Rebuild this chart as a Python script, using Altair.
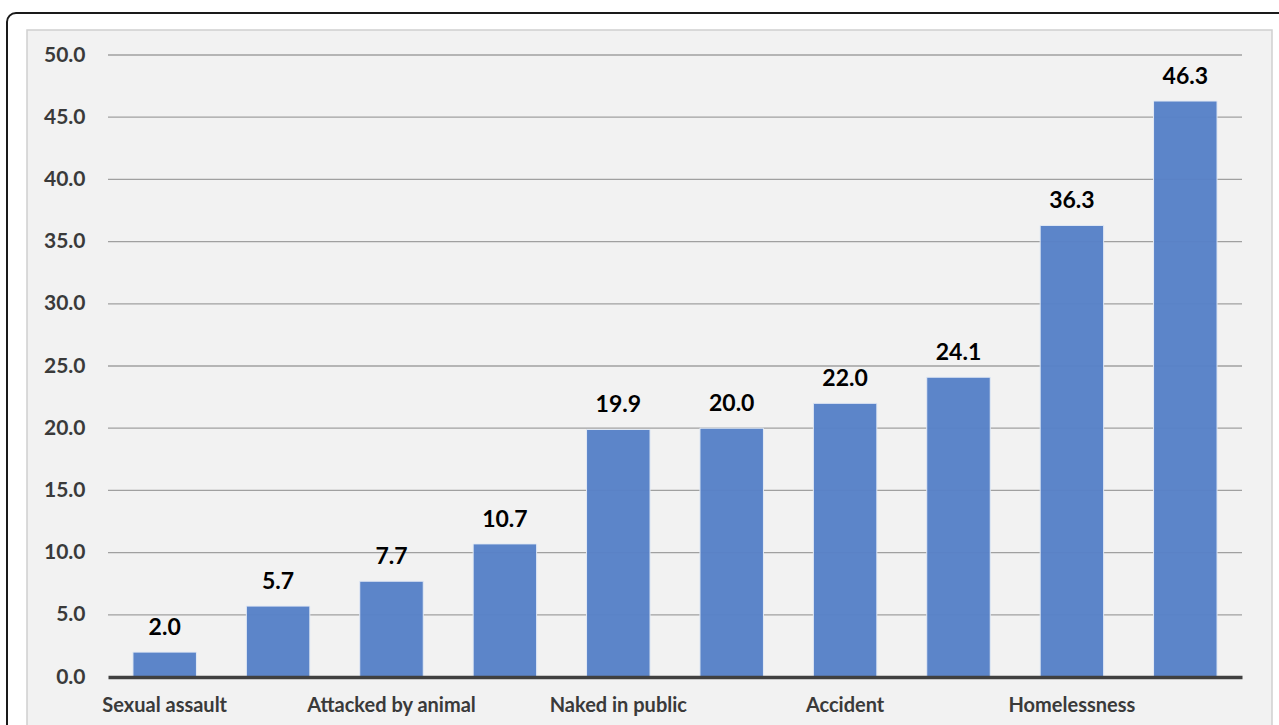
import altair as alt
import pandas as pd

categories = ["Sexual assault", "Category 2", "Attacked by animal", "Category 4",
              "Naked in public", "Category 6", "Accident", "Category 8",
              "Homelessness", "Category 10"]
values = [2.0, 5.7, 7.7, 10.7, 19.9, 20.0, 22.0, 24.1, 36.3, 46.3]
shown_labels = ["Sexual assault", "Attacked by animal", "Naked in public", "Accident", "Homelessness"]
y_ticks = [0, 5, 10, 15, 20, 25, 30, 35, 40, 45, 50]

df = pd.DataFrame({"category": categories, "value": values})
grid_df = pd.DataFrame({"value": y_ticks[1:]})
one = alt.Data(values=[{}])

FONT = "Lato"
label_list = "[" + ",".join("'" + s + "'" for s in shown_labels) + "]"

outer = alt.Chart(one).mark_rect(fill="white", stroke="#1a1a1a", strokeWidth=2, cornerRadius=9).encode(
    x=alt.value(-101), x2=alt.value(1185), y=alt.value(-42), y2=alt.value(690))
panel = alt.Chart(one).mark_rect(fill="#f2f2f2", stroke="#d0d0d0", strokeWidth=1.5).encode(
    x=alt.value(-81), x2=alt.value(1164), y=alt.value(-25), y2=alt.value(690))

y_scale = alt.Scale(domain=[0, 50], nice=False)
y_axis = alt.Axis(values=y_ticks, format=".1f", grid=False, zindex=1,
                  labelFont=FONT, labelFontSize=21, labelFontWeight="bold",
                  labelColor="#3a3a3a", labelPadding=23, ticks=False, domain=False)

grid = alt.Chart(grid_df).mark_rule(color="#a0a0a0", strokeWidth=1.3).encode(
    y=alt.Y("value:Q", scale=y_scale, title=None, axis=y_axis),
    x=alt.value(0), x2=alt.value(1134))

base = alt.Chart(df)
x_enc = alt.X("category:N", sort=categories, title=None,
              scale=alt.Scale(paddingInner=0.44, paddingOuter=0.22),
              axis=alt.Axis(labelAngle=0, labelFont=FONT, labelFontSize=20, labelFontWeight="bold",
                            labelColor="#3a3a3a", labelPadding=18, ticks=False,
                            domainColor="#404040", domainWidth=3.5, zindex=1,
                            labelExpr="indexof(" + label_list + ", datum.value) >= 0 ? datum.value : ''"))
y_enc = alt.Y("value:Q", title=None, scale=y_scale, axis=y_axis)

bars = base.mark_bar(color="#5882C8", opacity=0.97, stroke="#e4ebf6", strokeWidth=1).encode(x=x_enc, y=y_enc)
texts = base.mark_text(baseline="bottom", dy=-12, font=FONT, fontSize=23, fontWeight="bold",
                       color="black").encode(
    x=alt.X("category:N", sort=categories),
    y=y_enc,
    text=alt.Text("value:Q", format=".1f"))

chart = alt.layer(outer, panel, grid, bars, texts).properties(
    width=1134, height=622,
    autosize=alt.AutoSizeParams(type="none"),
    padding={"left": 108, "top": 55, "right": 37, "bottom": 48},
    background="white",
).configure_view(stroke=None, fill=None)

chart.save("out.html", embed_options={"renderer": "svg", "actions": False})
